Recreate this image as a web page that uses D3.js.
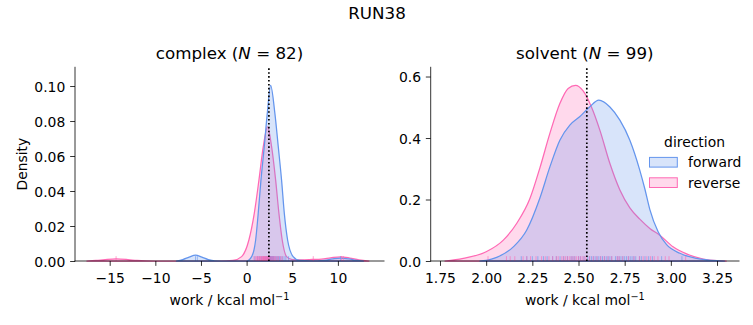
<!DOCTYPE html>
<html><head><meta charset="utf-8">
<script src="https://cdn.jsdelivr.net/npm/d3@7"></script>
<style>
body{margin:0;background:#fff}
svg{display:block}
text{font-family:"DejaVu Sans",sans-serif;fill:#000}
</style>
</head><body>
<svg id="chart" width="753" height="325"></svg>
<script>
// ---------------- data ----------------
const suptitle = "RUN38";
const panelNames = ["complex", "solvent"];
const panelN = [82, 99];
const directions = ["forward", "reverse"];
const directionColors = ["#6495ed", "#ff69b4"];

const complexTicksX = [-15, -10, -5, 0, 5, 10];
const complexTicksY = [0, 0.02, 0.04, 0.06, 0.08, 0.10];
const solventTicksX = [1.75, 2.00, 2.25, 2.50, 2.75, 3.00, 3.25];
const solventTicksY = [0, 0.2, 0.4, 0.6];

const complexMeanWork = 2.44;
const solventMeanWork = 2.545;

// density curves [work, density]
const complexForwardKde = [
  [-7.7,0],[-7.0,0.0008],[-6.3,0.0022],[-5.6,0.0034],[-4.9,0.0022],[-4.2,0.0008],[-3.5,0.0001],[-2.0,0],
  [0.0,0],[0.55,0.0025],[0.99,0.012],[1.27,0.0272],[1.57,0.0462],[1.93,0.0652],[2.26,0.0842],[2.63,0.1004],
  [3.10,0.0842],[3.47,0.0652],[3.83,0.0462],[4.13,0.0272],[4.49,0.012],[5.1,0.0025],[5.8,0.0003],[7.0,0.0001],
  [8.5,0.0004],[9.4,0.0012],[10.3,0.0017],[11.2,0.0012],[12.0,0.0004],[12.8,0]
];
const complexReverseKde = [
  [-17.5,0],[-16.5,0.0003],[-15.5,0.0008],[-14.3,0.0012],[-13.0,0.0008],[-12.0,0.0003],[-11.0,0.0001],[-9.0,0],
  [-3.0,0],[-1.5,0.0003],[-0.55,0.0025],[0.25,0.012],[0.84,0.0272],[1.35,0.0462],[1.82,0.0652],[2.30,0.0766],
  [2.74,0.0652],[3.18,0.0462],[3.54,0.0272],[3.90,0.012],[4.38,0.0025],[5.0,0.0008],[6.0,0.0007],[7.2,0.0009],
  [8.2,0.0011],[9.2,0.0018],[10.3,0.0024],[11.3,0.0017],[12.3,0.0006],[13.4,0]
];
const solventForwardKde = [
  [1.966,0],[2.0,0.002],[2.057,0.012],[2.147,0.046],[2.219,0.10],[2.291,0.205],[2.345,0.306],[2.399,0.393],
  [2.453,0.442],[2.506,0.469],[2.56,0.501],[2.61,0.523],[2.67,0.501],[2.724,0.458],[2.778,0.393],[2.832,0.295],
  [2.859,0.235],[2.886,0.168],[2.931,0.095],[2.977,0.053],[3.049,0.025],[3.139,0.0087],[3.25,0.001],[3.29,0]
];
const solventReverseKde = [
  [1.777,0],[1.876,0.0087],[2.0,0.030],[2.093,0.068],[2.165,0.122],[2.237,0.203],[2.291,0.303],[2.345,0.415],
  [2.399,0.512],[2.444,0.561],[2.484,0.571],[2.525,0.553],[2.57,0.501],[2.616,0.425],[2.67,0.317],[2.724,0.231],
  [2.778,0.173],[2.832,0.136],[2.886,0.106],[2.94,0.084],[3.012,0.046],[3.085,0.023],[3.175,0.0065],[3.25,0.001],[3.3,0]
];

// rug samples (work values)
const complexForwardWork = [-5.6,-5.4,0.9,1.2,1.4,1.6,1.7,1.85,1.95,2.05,2.1,2.2,2.25,2.3,2.35,2.4,2.45,2.5,2.55,2.6,
  2.62,2.65,2.7,2.75,2.8,2.85,2.9,2.95,3.0,3.1,3.2,3.3,3.4,3.5,3.6,3.75,3.9,4.1,4.3,4.6,10.3];
const complexReverseWork = [-14.3,0.8,1.0,1.1,1.2,1.3,1.4,1.5,1.55,1.6,1.7,1.75,1.8,1.85,1.9,1.95,2.0,2.05,2.1,2.15,
  2.2,2.25,2.3,2.35,2.4,2.45,2.5,2.6,2.7,2.8,2.9,3.0,3.1,3.2,3.35,3.5,3.7,3.9,7.3,10.4,10.6];
const solventForwardWork = [2.19,2.22,2.25,2.28,2.31,2.33,2.36,2.38,2.40,2.42,2.44,2.46,2.47,2.48,2.50,2.51,2.53,2.55,
  2.56,2.57,2.58,2.59,2.60,2.61,2.62,2.63,2.64,2.65,2.66,2.67,2.68,2.70,2.71,2.72,2.73,2.74,2.75,2.76,2.77,2.78,
  2.79,2.80,2.81,2.83,2.84,2.86,2.88,2.90,2.95,3.06];
const solventReverseWork = [2.01,2.11,2.13,2.155,2.20,2.22,2.24,2.27,2.30,2.32,2.34,2.36,2.38,2.39,2.41,2.42,2.43,2.44,
  2.45,2.46,2.47,2.48,2.49,2.50,2.51,2.52,2.53,2.54,2.56,2.58,2.60,2.62,2.64,2.66,2.68,2.71,2.72,2.74,2.77,2.80,
  2.83,2.85,2.87,2.89,2.91,2.93,2.97,2.99,3.08];

// ---------------- drawing ----------------
const svg = d3.select("#chart");
svg.append("rect").attr("width",753).attr("height",325).attr("fill","#fff");

const FS = 13.9;
const tickLen = 4.86;

svg.append("text").attr("x",377).attr("y",19).attr("text-anchor","middle")
  .style("font-size","16.7px").text(suptitle);

const panels = [
  {name: panelNames[0], n: panelN[0], left:75, right:384, xdom:[-18.8,15.05], ydom:[0,0.1107],
   xt: complexTicksX, yt: complexTicksY, xf: d3.format("d"), yf: d3.format(".2f"),
   kdes:[complexForwardKde, complexReverseKde], rugs:[complexForwardWork, complexReverseWork],
   mean: complexMeanWork, ylabel:true},
  {name: panelNames[1], n: panelN[1], left:430.7, right:739, xdom:[1.6997,3.369], ydom:[0,0.630],
   xt: solventTicksX, yt: solventTicksY, xf: d3.format(".2f"), yf: d3.format(".1f"),
   kdes:[solventForwardKde, solventReverseKde], rugs:[solventForwardWork, solventReverseWork],
   mean: solventMeanWork, ylabel:false}
];
const axTop = 67.3, axBottom = 261;

panels.forEach(p => {
  const x = d3.scaleLinear().domain(p.xdom).range([p.left, p.right]);
  const y = d3.scaleLinear().domain(p.ydom).range([axBottom, axTop]);
  const g = svg.append("g");

  // KDE areas: reverse first, forward on top
  [1,0].forEach(i => {
    const area = d3.area().x(d=>x(d[0])).y0(y(0)).y1(d=>y(d[1])).curve(d3.curveMonotoneX);
    g.append("path").attr("d", area(p.kdes[i]))
      .attr("fill", directionColors[i]).attr("fill-opacity",0.25)
      .attr("stroke", directionColors[i]).attr("stroke-width",1.25).attr("stroke-linejoin","round");
  });

  // rugs
  const rugH = 0.025*(axBottom-axTop);
  [0,1].forEach(i => {
    g.append("g").selectAll("line").data(p.rugs[i]).join("line")
      .attr("x1",d=>x(d)).attr("x2",d=>x(d))
      .attr("y1",axBottom).attr("y2",axBottom-rugH)
      .attr("stroke",directionColors[i]).attr("stroke-opacity",0.6).attr("stroke-width",1);
  });

  // mean line
  g.append("line").attr("x1",x(p.mean)).attr("x2",x(p.mean)).attr("y1",axBottom).attr("y2",axTop)
    .attr("stroke","#000").attr("stroke-width",1.7).attr("stroke-dasharray","1.6,2.3");

  // axes
  const xa = d3.axisBottom(x).tickValues(p.xt).tickFormat(p.xf).tickSize(tickLen).tickPadding(4.86);
  const ya = d3.axisLeft(y).tickValues(p.yt).tickFormat(p.yf).tickSize(tickLen).tickPadding(4.86);
  const gx = g.append("g").attr("transform",`translate(0,${axBottom})`).call(xa);
  const gy = g.append("g").attr("transform",`translate(${p.left},0)`).call(ya);
  [gx,gy].forEach(a => {
    a.selectAll("path.domain").remove();
    a.selectAll(".tick line").attr("stroke","#000").attr("stroke-width",0.8);
    a.selectAll(".tick text").style("font-size",FS+"px").style("font-family","DejaVu Sans").attr("fill","#000");
  });
  gx.selectAll(".tick text").attr("dy",null).attr("y",21.5);
  gy.selectAll(".tick text").attr("dy","0.36em");
  // spines
  g.append("line").attr("x1",p.left).attr("x2",p.left).attr("y1",axTop).attr("y2",axBottom)
    .attr("stroke","#000").attr("stroke-width",0.8).attr("stroke-linecap","square");
  g.append("line").attr("x1",p.left).attr("x2",p.right).attr("y1",axBottom).attr("y2",axBottom)
    .attr("stroke","#000").attr("stroke-width",0.8).attr("stroke-linecap","square");

  // title
  const cx = (p.left+p.right)/2;
  const t = g.append("text").attr("x",cx).attr("y",58.7).attr("text-anchor","middle").style("font-size","16.7px");
  t.append("tspan").text(p.name + " (");
  t.append("tspan").style("font-style","italic").text("N");
  t.append("tspan").text(" = " + p.n + ")");

  // x label
  const xl = g.append("text").attr("x",cx).attr("y",305).attr("text-anchor","middle").style("font-size",FS+"px");
  xl.append("tspan").text("work / kcal mol");
  xl.append("tspan").attr("dy",-5.5).style("font-size","9.7px").text("\u22121");

  if (p.ylabel) {
    g.append("text").attr("transform",`translate(26.5,${(axTop+axBottom)/2}) rotate(-90)`)
      .attr("text-anchor","middle").style("font-size",FS+"px").text("Density");
  }
});

// legend
const lg = svg.append("g");
lg.append("text").attr("x",694.5).attr("y",146.5).attr("text-anchor","middle").style("font-size",FS+"px").text("direction");
directions.forEach((d,i) => {
  const yc = 162.3 + i*20.4;
  lg.append("rect").attr("x",649.5).attr("y",yc-4.9).attr("width",27.8).attr("height",9.7)
    .attr("fill",directionColors[i]).attr("fill-opacity",0.25)
    .attr("stroke",directionColors[i]).attr("stroke-width",1);
  lg.append("text").attr("x",688).attr("y",yc+5).style("font-size",FS+"px").text(d);
});
</script>
</body></html>
